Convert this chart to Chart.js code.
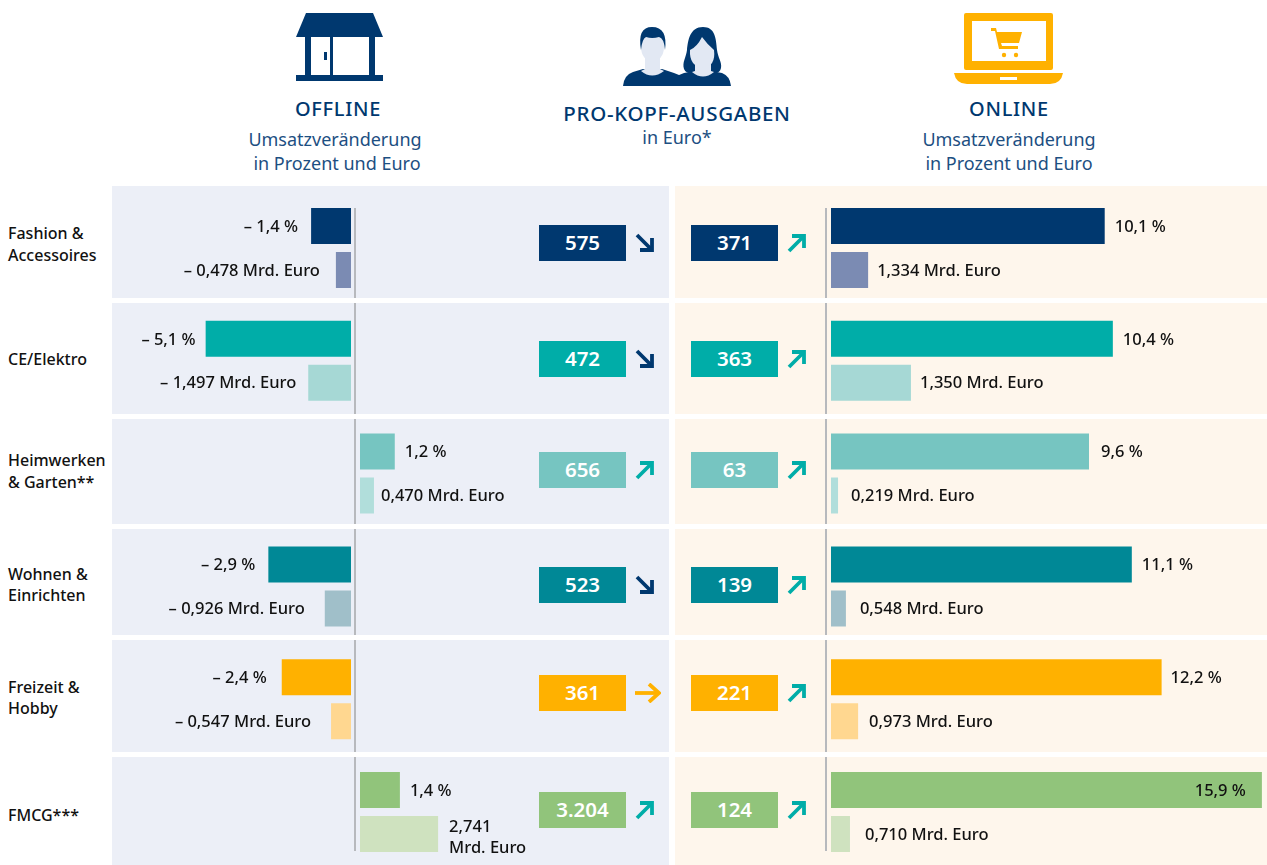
<!DOCTYPE html>
<html lang="de">
<head>
<meta charset="utf-8">
<title>Pro-Kopf-Ausgaben offline und online</title>
<script src="https://cdn.jsdelivr.net/npm/chart.js@4"></script>
<style>
  html, body { margin: 0; background: #fff; overflow: hidden; }
  #page { position: relative; width: 1267px; height: 865px; overflow: hidden; font-family: "Noto Sans", sans-serif; color: #00386f; }
  #page > * { position: absolute; }
  canvas { left: 0; top: 0; }
  .panel { z-index: 0; }
  .axisline { width: 2px; background: #b7b9bd; }
  .head { font-size: 20px; font-weight: 500; letter-spacing: .7px; text-align: center; width: 400px; line-height: 24px; white-space: nowrap; }
  .sub { font-size: 18px; color: #1d4f82; text-align: center; width: 400px; line-height: 24px; white-space: nowrap; }
  .box { width: 87px; height: 36px; line-height: 35px; color: #fff; font-size: 20.5px; font-weight: 600; text-align: center; }
</style>
</head>
<body>
<div id="page">
  <svg style="left:0;top:0" width="1267" height="100" viewBox="0 0 1267 100">
    <!-- Laden -->
    <g fill="#00386f">
      <path d="M306 13H373L383 37H296Z"/>
      <rect x="305" y="37" width="6" height="38"/>
      <rect x="369" y="37" width="6" height="38"/>
      <rect x="330" y="37" width="3" height="38"/>
      <rect x="296" y="75" width="87" height="6"/>
      <rect x="324" y="52" width="3" height="8"/>
    </g>
    <!-- Personen -->
    <path d="M623 86Q624 75 633 72L643 69H662L674 73L684 77V86Z" fill="#00386f"/>
    <path d="M645 56H660V69L664 71Q652 80 641 71L645 69Z" fill="#e2e8f3"/>
    <ellipse cx="652.500" cy="47" rx="11.500" ry="15" fill="#e2e8f3"/>
    <path d="M641 50Q637 27 652 27Q668 27 665 50Q664 38 659 37Q652 39 646 37Q642 39 641 50Z" fill="#00386f"/>
    <path d="M703 27C690 27 688 40 687 50C686 58 682 62 684 69C686 74 692 74 697 72H710C716 74 720 73 721 68C722 62 718 58 717 50C716 38 715 27 703 27Z" fill="#00386f"/>
    <path d="M672 86Q673 76 684 73L695 71H711L722 73Q730 76 731 86Z" fill="#00386f"/>
    <path d="M695 60H711V71L714 72Q703 81 692 72L695 71Z" fill="#e2e8f3"/>
    <path d="M690 50Q697 47 702 37Q707 44 714 50Q716 66 703 68Q689 66 690 50Z" fill="#e2e8f3"/>
    <!-- Laptop -->
    <g fill="#ffb100">
      <path d="M966 13H1051Q1053 13 1053 15V68Q1053 70 1051 70H966Q964 70 964 68V15Q964 13 966 13ZM972 21V61H1046V21Z" fill-rule="evenodd"/>
      <path d="M954 73H1063Q1061 84 1050 84H967Q956 84 954 73ZM1000 77V80H1017V77Z" fill-rule="evenodd"/>
      <path d="M991 28H996L997 32H1022L1019 43H1001L1002 46H1018V49H999L995 31H991Z"/>
      <circle cx="1004" cy="55" r="2.200"/>
      <circle cx="1016" cy="55" r="2.200"/>
    </g>
  </svg>
  <div class="head" style="left:138px;top:97px">OFFLINE</div>
  <div class="sub" style="left:135px;top:127px">Umsatzveränderung</div>
  <div class="sub" style="left:137px;top:151px">in Prozent und Euro</div>
  <div class="head" style="left:477px;top:101px;font-size:20.500px">PRO-KOPF-AUSGABEN</div>
  <div class="sub" style="left:477px;top:125px">in Euro*</div>
  <div class="head" style="left:809px;top:97px">ONLINE</div>
  <div class="sub" style="left:809px;top:127px">Umsatzveränderung</div>
  <div class="sub" style="left:809px;top:151px">in Prozent und Euro</div>
  <canvas id="chart" width="1267" height="880" style="z-index:2"></canvas>
</div>
<script>
// rows
const categories = [['Fashion &', 'Accessoires'], ['CE/Elektro'], ['Heimwerken', '& Garten**'], ['Wohnen &', 'Einrichten'], ['Freizeit &', 'Hobby'], ['FMCG***']];

// bar lengths as drawn in the picture (some euro bars are not to scale with their label)
const offlinePct = [-1.4, -5.1, 1.22, -2.9, -2.43, 1.4];
const offlineEuro = [-0.53, -1.5, 0.49, -0.92, -0.7, 2.74];
const onlinePct = [10.1, 10.4, 9.52, 11.1, 12.2, 15.9];
const onlineEuro = [1.37, 2.95, 0.26, 0.55, 1.0, 0.7];

const offlinePctLabels = ['– 1,4 %', '– 5,1 %', '1,2 %', '– 2,9 %', '– 2,4 %', '1,4 %'];
const offlineEuroLabels = ['– 0,478 Mrd. Euro', '– 1,497 Mrd. Euro', '0,470 Mrd. Euro', '– 0,926 Mrd. Euro', '– 0,547 Mrd. Euro', '2,741\nMrd. Euro'];
const onlinePctLabels = ['10,1 %', '10,4 %', '9,6 %', '11,1 %', '12,2 %', '15,9 %'];
const onlineEuroLabels = ['1,334 Mrd. Euro', '1,350 Mrd. Euro', '0,219 Mrd. Euro', '0,548 Mrd. Euro', '0,973 Mrd. Euro', '0,710 Mrd. Euro'];

// Pro-Kopf-Ausgaben
const offlineSpend = ['575', '472', '656', '523', '361', '3.204'];
const onlineSpend = ['371', '363', '63', '139', '221', '124'];
const offlineTrend = ['down', 'down', 'up', 'down', 'flat', 'up'];
const onlineTrend = ['up', 'up', 'up', 'up', 'up', 'up'];

const strongColors = ['#00386f', '#00ada8', '#76c5c1', '#008896', '#ffb100', '#91c47b'];
const paleColors = ['#7b8bb3', '#a6d8d5', '#b1dedb', '#a0bfc9', '#ffd790', '#cfe2bf'];

// layout
const rowTops = [186, 303, 419, 529, 640, 757];
const rowBottoms = [298, 414, 524, 635, 752, 865];
const boxCenters = [243, 359, 470, 585, 693, 810];
const catCenters = [243, 358, 470, 583.5, 696.5, 814];
const offPctGaps = [13, 10, 10, 13, 15, 10];
const offEuroGaps = [16, 12, 7, 20, 20, 11];
const onPctGaps = [10, 10, 12, 10, 9, 16];
const onEuroGaps = [9, 9, 13, 14, 11, 15];
const W = 1267;
const offK = 28.5, onK = 27.1;   // px per unit

const page = document.getElementById('page');

function addDiv(cls, css, text) {
  const d = document.createElement('div');
  d.className = cls;
  d.style.cssText = css;
  if (text) d.textContent = text;
  page.appendChild(d);
  return d;
}

function addArrow(kind, x, cy) {
  const col = kind === 'down' ? '#00386f' : kind === 'flat' ? '#ffb100' : '#00ada8';
  const shapes = {
    up: '<path d="M2 18L16 4"/><path d="M5 3H17V15"/>',
    down: '<path d="M2 2L16 16"/><path d="M17 5V17H5"/>',
    flat: '<path d="M0 10H23"/><path d="M14 1L24 10L14 19"/>'
  };
  const s = document.createElementNS('http://www.w3.org/2000/svg', 'svg');
  s.setAttribute('width', 26);
  s.setAttribute('height', 20);
  s.style.cssText = 'left:' + x + 'px;top:' + (cy - 10) + 'px;z-index:3';
  s.innerHTML = '<g fill="none" stroke="' + col + '" stroke-width="3.8">' + shapes[kind] + '</g>';
  page.appendChild(s);
}

rowTops.forEach((top, i) => {
  const h = rowBottoms[i] - top;
  addDiv('panel', 'left:112px;width:557px;top:' + top + 'px;height:' + h + 'px;background:#eceff7');
  addDiv('panel', 'left:675px;width:592px;top:' + top + 'px;height:' + h + 'px;background:#fef6ec');
  const lineTop = i === 0 ? 208 : top;
  const lineEnd = i === 5 ? 851 : rowBottoms[i];
  addDiv('axisline', 'left:354px;top:' + lineTop + 'px;height:' + (lineEnd - lineTop) + 'px;z-index:1');
  addDiv('axisline', 'left:825px;top:' + lineTop + 'px;height:' + (lineEnd - lineTop) + 'px;z-index:1');
  const cy = boxCenters[i];
  addDiv('box', 'left:539px;top:' + (cy - 18) + 'px;background:' + strongColors[i] + ';z-index:3', offlineSpend[i]);
  addDiv('box', 'left:691px;top:' + (cy - 18) + 'px;background:' + strongColors[i] + ';z-index:3', onlineSpend[i]);
  addArrow(offlineTrend[i], 635, cy);
  addArrow(onlineTrend[i], 787, cy);
  categories[i].forEach((line, j) => {
    const y = catCenters[i] + 1 + (j - (categories[i].length - 1) / 2) * 21.500 - 11;
    addDiv('cat', 'left:8px;top:' + y + 'px;line-height:22px;font-size:16px;font-weight:500;color:#111;white-space:nowrap', line);
  });
});

const onlyNeg = a => a.map(v => (v < 0 ? v : null));
const onlyPos = a => a.map(v => (v > 0 ? v : null));

function barSet(values, axis, stack, colors, labels, gaps) {
  return { data: values, xAxisID: axis, stack: stack, backgroundColor: colors, valueLabels: labels, labelGaps: gaps };
}

// label next to each bar, taken from the bar element position
const valueLabels = {
  id: 'valueLabels',
  afterDatasetsDraw(chart) {
    const ctx = chart.ctx;
    ctx.save();
    ctx.font = '500 16.5px "Noto Sans"';
    ctx.fillStyle = '#111';
    ctx.textBaseline = 'middle';
    chart.data.datasets.forEach((ds, d) => {
      chart.getDatasetMeta(d).data.forEach((el, i) => {
        const v = ds.data[i];
        if (v === null) return;
        const lines = ds.valueLabels[i].split('\n');
        const gap = ds.labelGaps[i];
        const p = el.getProps(['x', 'y']);
        let x, align;
        if (v < 0) { x = p.x - gap; align = 'right'; }
        else if (p.x + gap + ctx.measureText(lines[0]).width > W) { x = p.x - gap; align = 'right'; }
        else { x = p.x + gap; align = 'left'; }
        ctx.textAlign = align;
        const shift = lines.length > 1 ? 3 : 0;
        lines.forEach((t, j) => {
          ctx.fillText(t, x, p.y + 1 + shift + (j - (lines.length - 1) / 2) * 21);
        });
      });
    });
    ctx.restore();
  }
};

function xAxis(zeroPx, k) {
  return { display: false, min: -zeroPx / k, max: (W - zeroPx) / k, grid: { display: false } };
}

new Chart(document.getElementById('chart'), {
  type: 'bar',
  data: {
    labels: categories.map(c => c.join(' ')),
    datasets: [
      barSet(onlyNeg(offlinePct), 'xOffNeg', 'pct', strongColors, offlinePctLabels, offPctGaps),
      barSet(onlyPos(offlinePct), 'xOffPos', 'pct', strongColors, offlinePctLabels, offPctGaps),
      barSet(onlinePct, 'xOn', 'pct', strongColors, onlinePctLabels, onPctGaps),
      barSet(onlyNeg(offlineEuro), 'xOffNeg', 'euro', paleColors, offlineEuroLabels, offEuroGaps),
      barSet(onlyPos(offlineEuro), 'xOffPos', 'euro', paleColors, offlineEuroLabels, offEuroGaps),
      barSet(onlineEuro, 'xOn', 'euro', paleColors, onlineEuroLabels, onEuroGaps)
    ]
  },
  options: {
    indexAxis: 'y',
    responsive: false,
    animation: false,
    layout: { padding: { top: 191.6, bottom: 11.6, left: 0, right: 0 } },
    categoryPercentage: 0.78,
    barPercentage: 0.818,
    plugins: { legend: { display: false }, tooltip: { enabled: false } },
    scales: {
      y: { display: false, grid: { display: false } },
      xOffNeg: xAxis(351, offK),
      xOffPos: xAxis(360, offK),
      xOn: xAxis(831, onK)
    }
  },
  plugins: [valueLabels]
});
</script>
</body>
</html>
